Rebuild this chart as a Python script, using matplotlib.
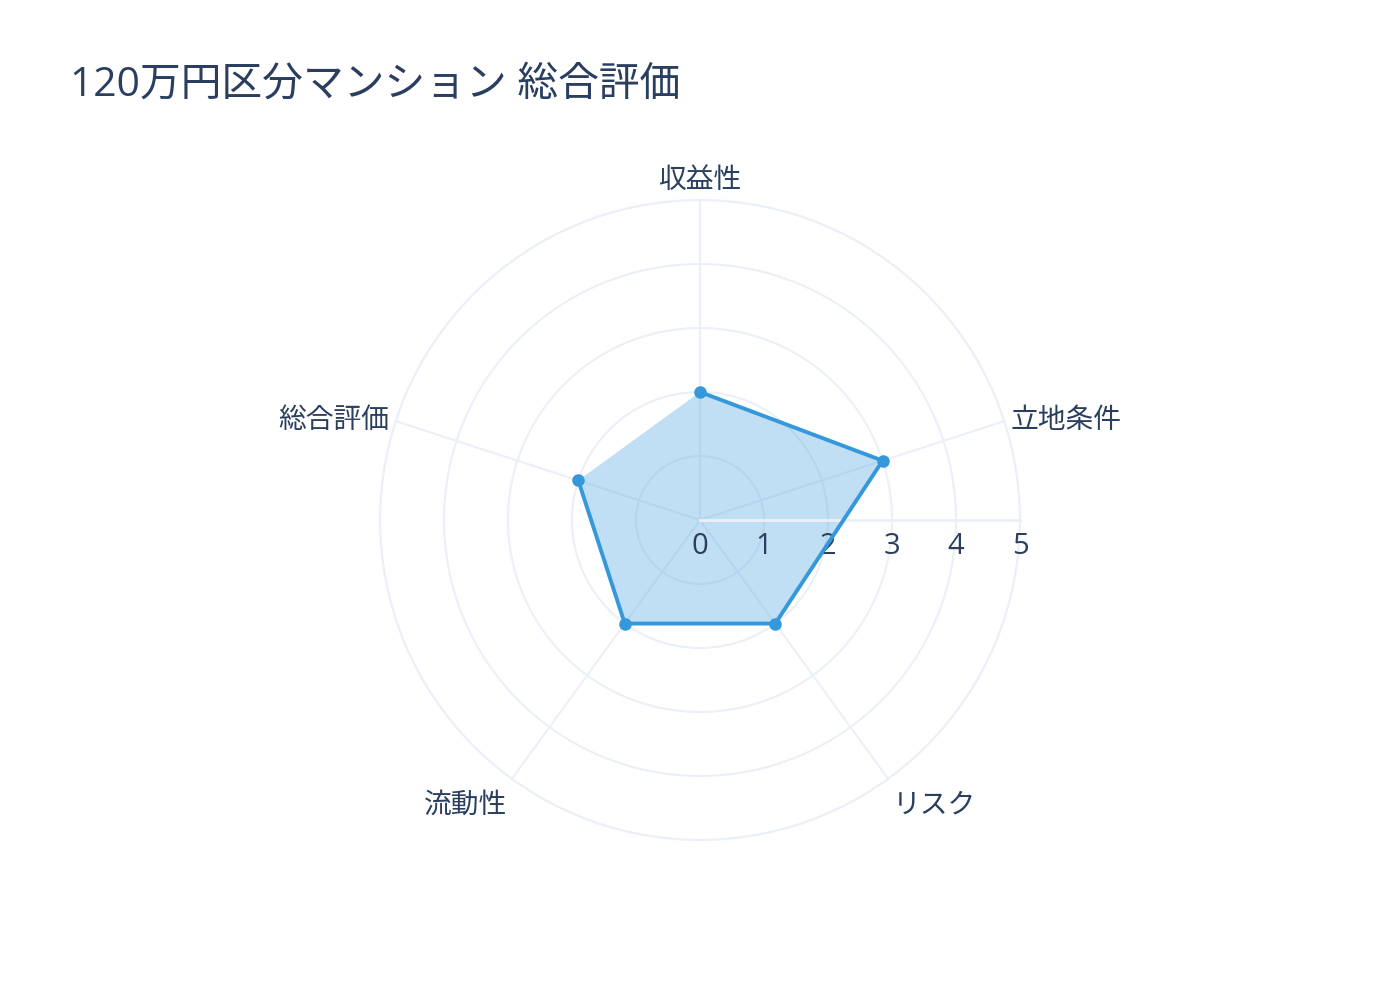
import numpy as np
import matplotlib
matplotlib.use("Agg")
import matplotlib.pyplot as plt

plt.rcParams['font.family'] = ['Open Sans', 'Noto Sans CJK JP', 'DejaVu Sans']

# data
categories = ["収益性", "立地条件", "リスク", "流動性", "総合評価"]
scores = [2, 3, 2, 2, 2]
r_ticks = [0, 1, 2, 3, 4, 5]
title = "120万円区分マンション 総合評価"

text_color = "#2a3f5f"
grid_color = "#EBF0F8"
line_color = "#3498db"

fig = plt.figure(figsize=(14, 10), dpi=100)
ax = fig.add_axes([0.27143, 0.16, 0.45714, 0.64], projection="polar")
ax.set_theta_zero_location("N")
ax.set_theta_direction(-1)

theta = np.deg2rad(np.arange(len(categories)) * 360 / len(categories))

ax.set_ylim(0, 5)
ax.set_yticks(r_ticks[1:])
ax.set_yticklabels([])
ax.set_xticks(theta)
ax.set_xticklabels([])
ax.grid(True, color=grid_color, lw=1.5)
ax.spines["polar"].set_color(grid_color)
ax.spines["polar"].set_linewidth(1.5)
ax.tick_params(length=0)

# fill (closed) and line (open, like plotly)
th_c = np.append(theta, theta[0])
sc_c = np.append(scores, scores[0])
ax.fill(th_c, sc_c, color=line_color, alpha=0.3, lw=0, zorder=2)
# radial axis line pointing right
ax.plot([np.pi / 2, np.pi / 2], [0, 5], color=grid_color, lw=2, zorder=3, clip_on=False)
ax.plot(theta, scores, color=line_color, lw=2.8, marker="o", markersize=8, zorder=4)

# radial tick labels along the right-pointing axis
for r in r_ticks:
    ax.annotate(str(r), xy=(np.pi / 2, r), xytext=(0, -27), textcoords="offset pixels",
                ha="center", va="center", fontsize=21, color=text_color)

# angular labels
offsets = [(0, 19, "center"), (6, 0, "left"), (5, -27, "left"), (-5, -27, "right"), (-6, 0, "right")]
for t, lab, (dx, dy, ha) in zip(theta, categories, offsets):
    ax.annotate(lab, xy=(t, 5), xytext=(dx, dy), textcoords="offset pixels",
                ha=ha, va="center", fontsize=20, color=text_color, annotation_clip=False)

fig.text(70 / 1400, 1 - 85 / 1000, title, ha="left", va="center", fontsize=29.3, color=text_color)

fig.savefig("out.png", dpi=100, facecolor="white")
